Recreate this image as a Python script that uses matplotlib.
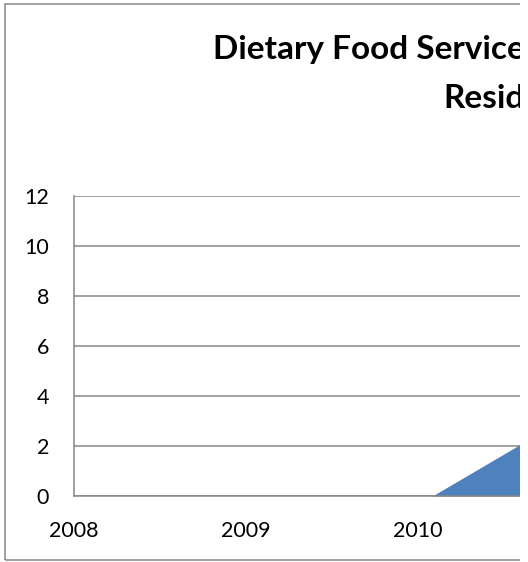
import matplotlib
matplotlib.use("Agg")
import matplotlib.pyplot as plt
from matplotlib.patches import Rectangle

W, H = 528, 562

# complaints per period, x as fractional years
years = [2010.083, 2011.0]
complaints = [0, 3.7]

year_ticks = [2008, 2009, 2010]
count_ticks = [0, 2, 4, 6, 8, 10, 12]

title_line1 = "Dietary Food Service"
title_line2 = "Resid"

grey = "#868686"
blue = "#4f81bd"

plt.rcParams["font.family"] = ["Lato", "DejaVu Sans"]

fig = plt.figure(figsize=(W / 100, H / 100), dpi=100)


def fx(x):
    return x / W


def fy(y):
    return 1 - y / H


# plot area starts at 74px and runs on past the right edge of the image
ax = fig.add_axes([fx(74), fy(496), (762 - 74) / W, (496 - 196) / H])
ax.fill_between(years, complaints, 0, color=blue, linewidth=0, zorder=2)
ax.set_xlim(2008, 2012)
ax.set_ylim(0, 12)
ax.set_xticks(year_ticks)
ax.set_xticklabels([str(y) for y in year_ticks])
ax.set_yticks(count_ticks)
ax.grid(axis="y", color=grey, linewidth=1.1, zorder=1)
ax.set_axisbelow(True)
for side in ("top", "right"):
    ax.spines[side].set_visible(False)
for side in ("left", "bottom"):
    ax.spines[side].set_color(grey)
    ax.spines[side].set_linewidth(1.1)
ax.tick_params(axis="y", length=0, pad=18, labelsize=15.5, labelcolor="black")
ax.tick_params(axis="x", length=0, pad=18, labelsize=15.5, labelcolor="black")

# chart frame
fig.add_artist(Rectangle((fx(5), fy(560)), (700 - 5) / W, (560 - 4) / H,
                         transform=fig.transFigure, fill=False,
                         edgecolor=grey, linewidth=1.1, zorder=5))

fig.text(fx(213), fy(59), title_line1, fontsize=24, fontweight="bold",
         ha="left", va="baseline", zorder=4)
fig.text(fx(443), fy(108), title_line2, fontsize=24, fontweight="bold",
         ha="left", va="baseline", zorder=4)

# blank strip on the right edge
fig.add_artist(Rectangle((fx(520), 0), 8 / W, 1, transform=fig.transFigure,
                         facecolor="white", edgecolor="none", zorder=10))

fig.savefig("out.png", dpi=100)
